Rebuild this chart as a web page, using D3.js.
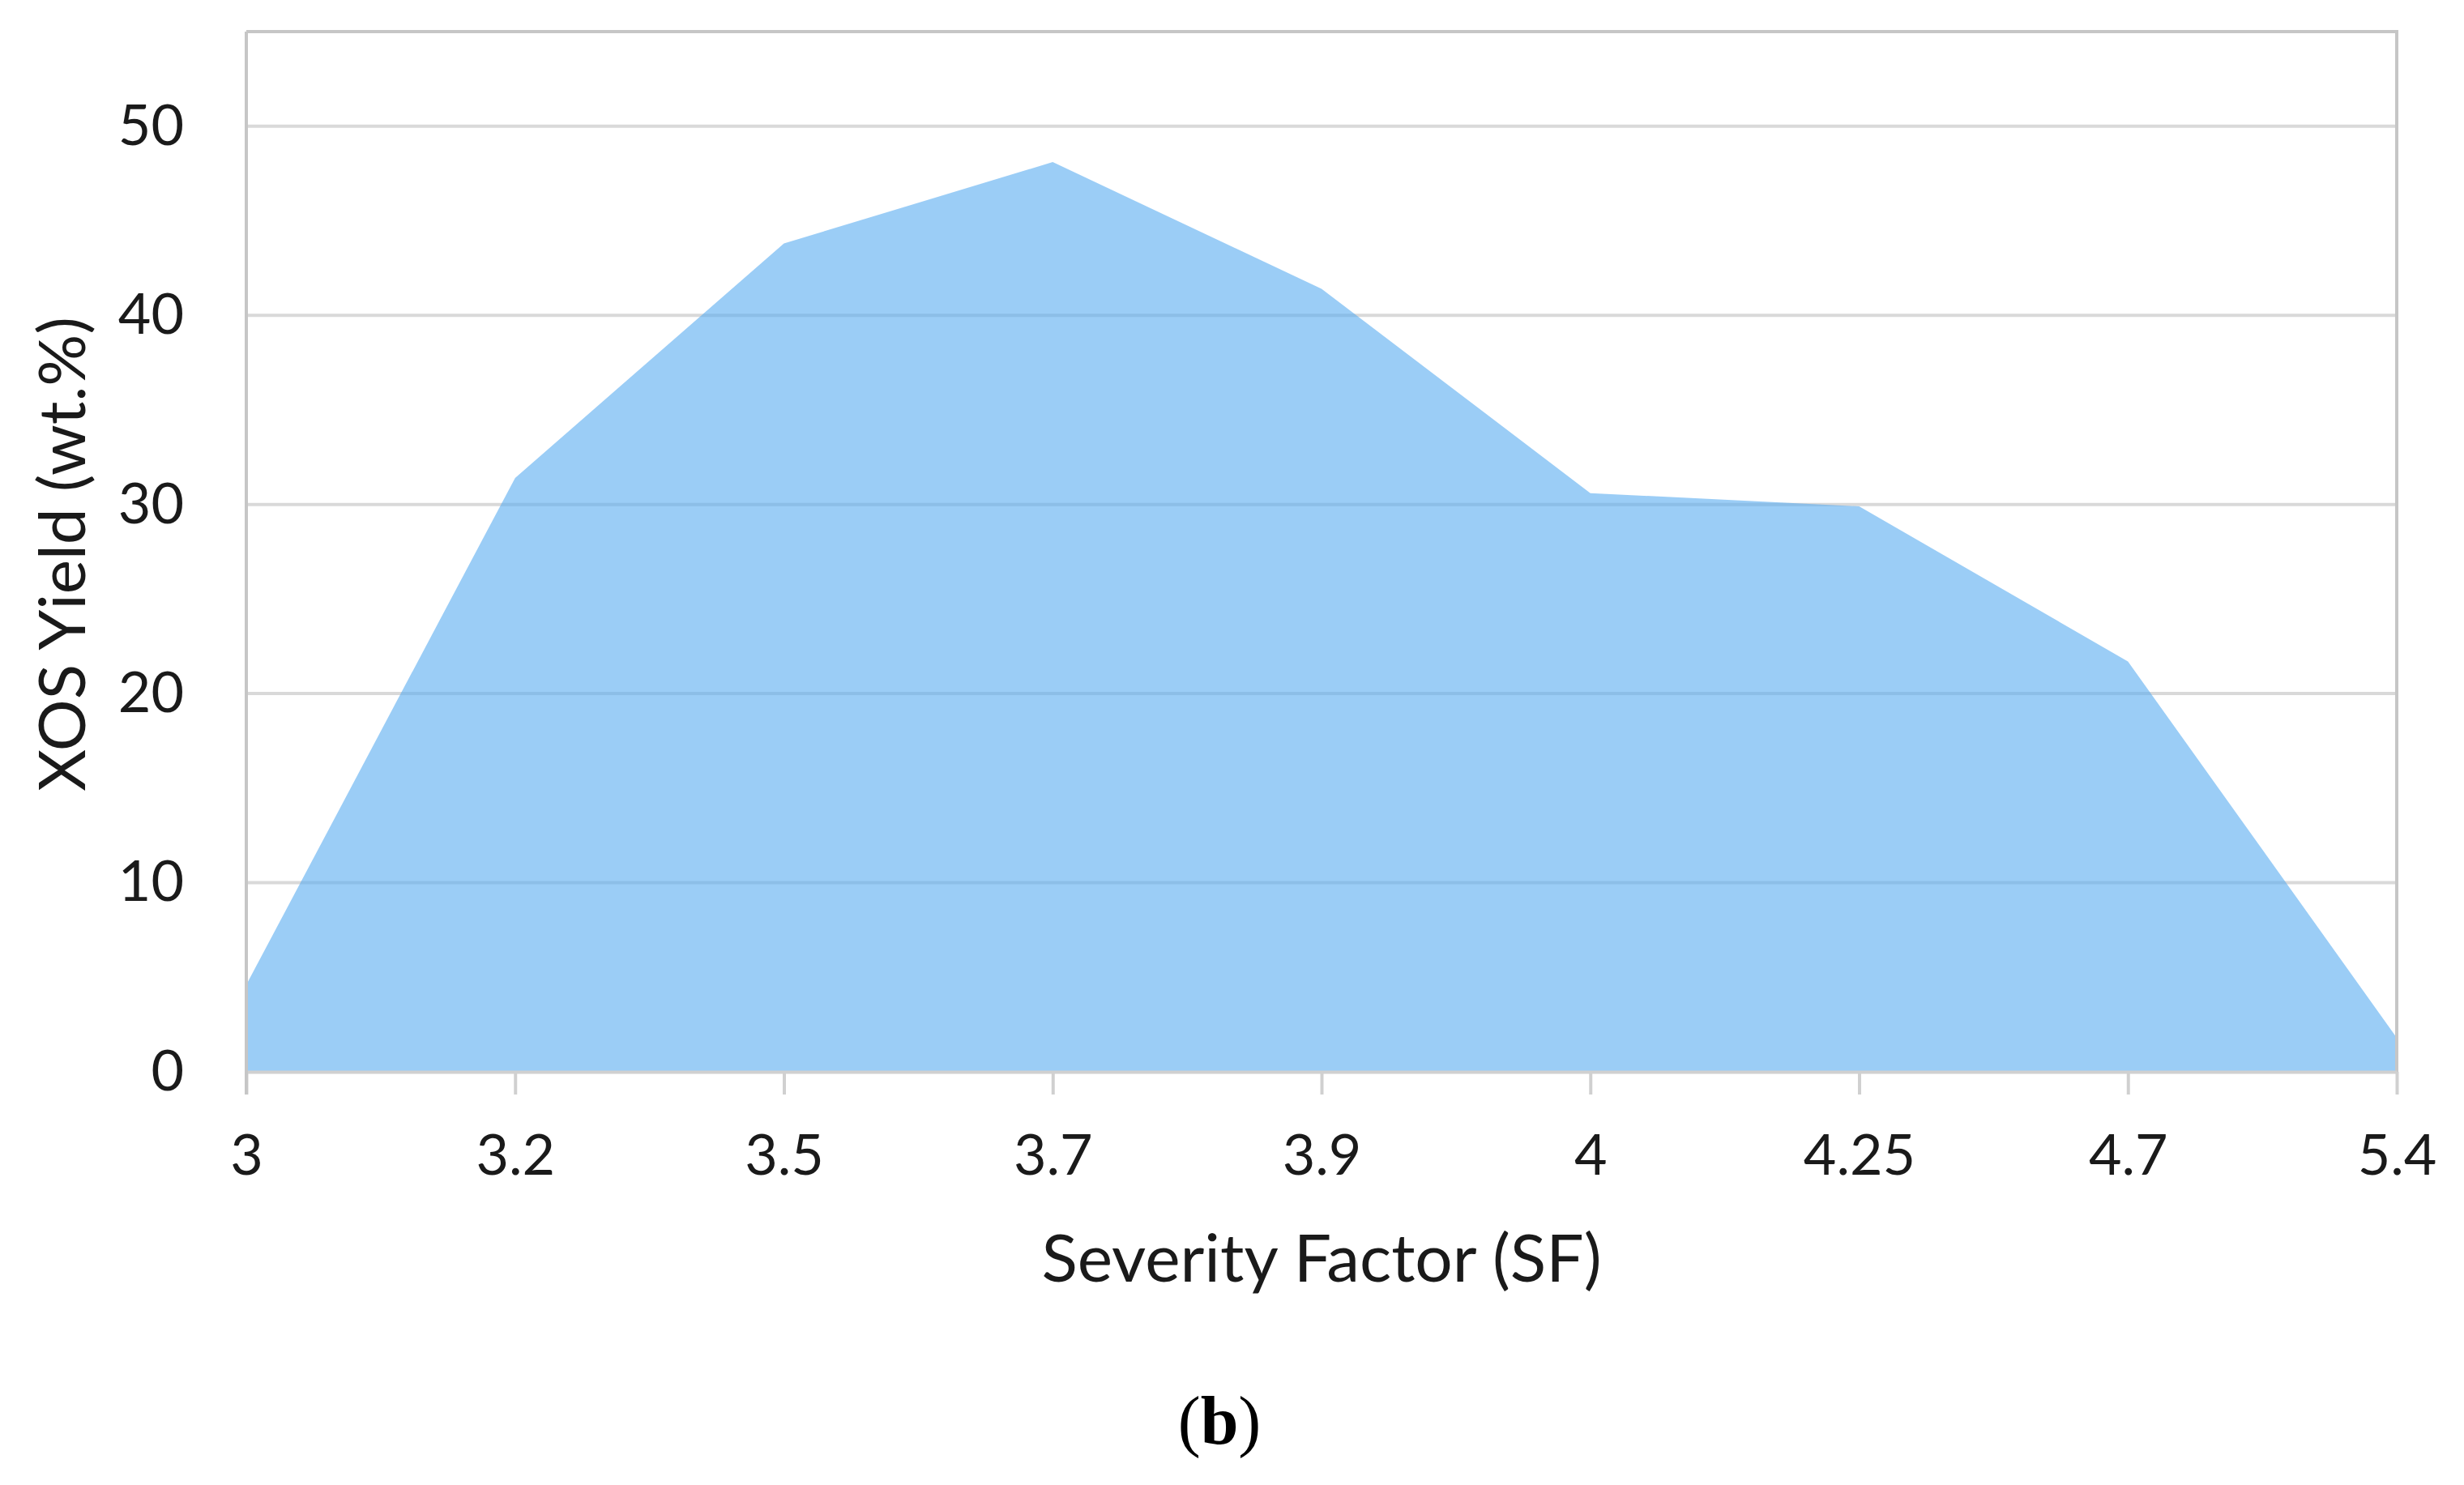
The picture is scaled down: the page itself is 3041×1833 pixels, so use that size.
<!DOCTYPE html>
<html>
<head>
<meta charset="utf-8">
<script src="https://cdnjs.cloudflare.com/ajax/libs/d3/7.8.5/d3.min.js"></script>
<style>
  html, body { margin: 0; padding: 0; background: #fff; }
  .tick text { font-family: Lato, 'Open Sans', sans-serif; fill: #1a1a1a; }
</style>
</head>
<body>
<div id="chart-area"></div>
<script>
    // values
    var categories = ['3', '3.2', '3.5', '3.7', '3.9', '4', '4.25', '4.7', '5.4'];
    var xosYield = [4.6, 31.4, 43.8, 48.1, 41.4, 30.6, 29.9, 21.7, 1.8];
    var yTicks = [0, 10, 20, 30, 40, 50];

    var margin = { left: 304, right: 83, top: 39, bottom: 510 };
    var width = 3041 - margin.left - margin.right;
    var height = 1833 - margin.top - margin.bottom;

    var svg = d3.select('#chart-area')
        .append('svg')
        .attr('width', width + margin.left + margin.right)
        .attr('height', height + margin.top + margin.bottom);

    const g = svg.append('g').attr('transform', `translate(${margin.left},${margin.top})`);

    var xScale = d3.scalePoint()
        .domain(categories)
        .range([0, width]);

    var yScale = d3.scaleLinear()
        .domain([0, 55])
        .range([height, 0]);

    // gridlines
    g.append('g')
        .selectAll('line')
        .data(yTicks.filter((d) => d > 0))
        .enter()
        .append('line')
        .attr('x1', 0)
        .attr('x2', width)
        .attr('y1', (d) => yScale(d))
        .attr('y2', (d) => yScale(d))
        .attr('stroke', '#d9d9d9')
        .attr('stroke-width', 4);

    // area
    var area = d3.area()
        .x((d, i) => xScale(categories[i]))
        .y0(height)
        .y1((d) => yScale(d));

    g.append('path')
        .datum(xosYield)
        .attr('d', area)
        .attr('fill', '#58acf0')
        .attr('fill-opacity', 0.6);

    // plot border (top, right)
    g.append('path')
        .attr('d', `M0,0H${width}V${height}`)
        .attr('fill', 'none')
        .attr('stroke', '#c6c6c6')
        .attr('stroke-width', 4);

    var xAxisCall = d3.axisBottom(xScale)
        .tickSizeInner(28)
        .tickSizeOuter(0)
        .tickPadding(49);

    var xAxis = g.append('g')
        .attr('class', 'x axis')
        .attr('transform', `translate(0, ${height})`)
        .call(xAxisCall);
    xAxis.select('.domain').attr('stroke', '#d0d0d0').attr('stroke-width', 4);
    xAxis.selectAll('.tick line').attr('stroke', '#d0d0d0').attr('stroke-width', 4);
    xAxis.selectAll('.tick text').attr('font-size', '70px');

    var yAxisCall = d3.axisLeft(yScale)
        .tickValues(yTicks)
        .tickSize(0)
        .tickPadding(77);

    var yAxis = g.append('g')
        .attr('class', 'y axis')
        .call(yAxisCall);
    yAxis.select('.domain').attr('stroke', '#c6c6c6').attr('stroke-width', 4)
        .attr('d', `M0,0V${height + 28}`);
    yAxis.selectAll('.tick text').attr('font-size', '70px');

    // axis titles
    g.append('text')
        .attr('x', width / 2)
        .attr('y', 1582 - margin.top)
        .attr('font-family', 'Lato, sans-serif')
        .attr('font-size', '82px')
        .attr('fill', '#1a1a1a')
        .attr('text-anchor', 'middle')
        .text('Severity Factor (SF)');

    g.append('text')
        .attr('transform', 'rotate(-90)')
        .attr('x', -(684 - margin.top))
        .attr('y', 105 - margin.left)
        .attr('font-family', 'Lato, sans-serif')
        .attr('font-size', '80px')
        .attr('fill', '#1a1a1a')
        .attr('text-anchor', 'middle')
        .text('XOS Yield (wt.%)');

    // panel caption
    var cap = svg.append('text')
        .attr('x', 1505)
        .attr('y', 1782)
        .attr('font-family', "'Liberation Serif', 'DejaVu Serif', serif")
        .attr('font-size', '84px')
        .attr('fill', '#000')
        .attr('text-anchor', 'middle');
    cap.append('tspan').attr('font-weight', 'normal').text('(');
    cap.append('tspan').attr('font-weight', 'bold').text('b');
    cap.append('tspan').attr('font-weight', 'normal').text(')');
</script>
</body>
</html>
